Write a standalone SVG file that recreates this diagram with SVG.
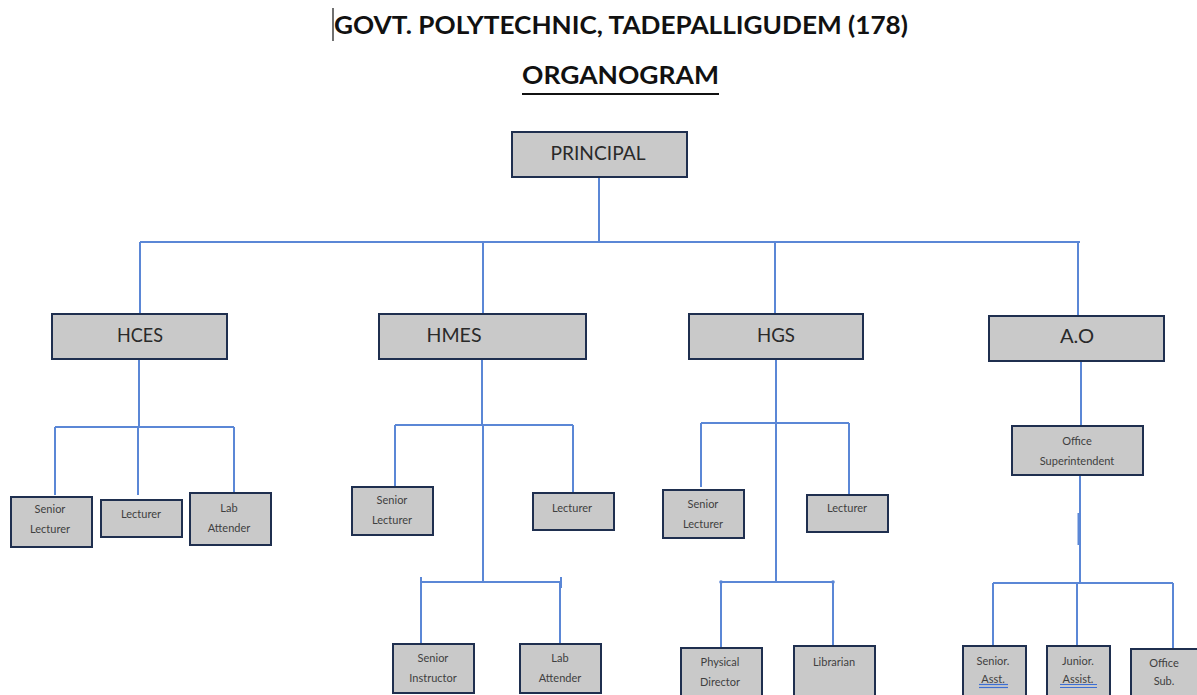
<svg xmlns="http://www.w3.org/2000/svg" width="1197" height="695" viewBox="0 0 1197 695">
<style>
.bx{fill:#c9c9c9;stroke:#1f2f4f;stroke-width:2}
.c{fill:none;stroke:#5b87d6;stroke-width:2}
.big{font-family:Lato,"Open Sans","Liberation Sans",sans-serif;font-size:19px;fill:#2a2a2a;text-anchor:middle}
.sm{font-family:Lato,"Open Sans","Liberation Sans",sans-serif;font-size:11px;fill:#3f3f3f;text-anchor:middle}
.ttl{font-family:Lato,"Open Sans","Liberation Sans",sans-serif;font-size:25px;font-weight:bold;fill:#111}
.ul{stroke:#3d6fd4;stroke-width:1.2}
</style>
<rect width="1197" height="695" fill="#fff"/>
<line x1="333" y1="8" x2="333" y2="41" stroke="#111" stroke-width="1.2"/>
<text class="ttl" x="334" y="34" textLength="574" lengthAdjust="spacingAndGlyphs">GOVT. POLYTECHNIC, TADEPALLIGUDEM (178)</text>
<text class="ttl" x="522" y="84" textLength="197" lengthAdjust="spacingAndGlyphs">ORGANOGRAM</text>
<line x1="522" y1="94" x2="719" y2="94" stroke="#111" stroke-width="2"/>

<g id="connectors">
<path class="c" d="M599 177V242M140 242H1080M140 242V314M483 242V314M775 242V314M1078 242V316"/>
<path class="c" d="M139 359V427M55 427H234M55 427V495M138 427V495M234 427V493"/>
<path class="c" d="M482 359V425M395 425H573M395 425V487M573 425V493M483 425V582M421 582H561M421 582V643M560 582V643M421 577V588M561 577V588"/>
<path class="c" d="M776 353V582M701 423H849M701 423V487M849 423V495M721 582H833M721 582V647M833 582V645"/>
<circle cx="721" cy="582" r="1.8" fill="#5b87d6"/>
<circle cx="833" cy="582" r="1.8" fill="#5b87d6"/>
<path class="c" d="M1081 361V426M1080 475V583M993 583H1173M993 583V645M1077 583V645M1173 583V648"/>
<line x1="1079" y1="513" x2="1079" y2="545" stroke="#5b87d6" stroke-width="3"/>
</g>

<g id="principal"><rect class="bx" x="512" y="132" width="175" height="45"/><text class="big" x="598" y="160" textLength="95" lengthAdjust="spacingAndGlyphs">PRINCIPAL</text></g>

<g id="hces"><rect class="bx" x="52" y="314" width="175" height="45"/><text class="big" x="140" y="342" textLength="46" lengthAdjust="spacingAndGlyphs">HCES</text></g>
<g id="hmes"><rect class="bx" x="379" y="314" width="207" height="45"/><text class="big" x="454" y="342" textLength="55" lengthAdjust="spacingAndGlyphs">HMES</text></g>
<g id="hgs"><rect class="bx" x="689" y="314" width="174" height="45"/><text class="big" x="776" y="342" textLength="38" lengthAdjust="spacingAndGlyphs">HGS</text></g>
<g id="ao"><rect class="bx" x="989" y="316" width="175" height="45"/><text class="big" x="1077" y="343" textLength="34" lengthAdjust="spacingAndGlyphs">A.O</text></g>

<g id="hces-senior-lecturer"><rect class="bx" x="11" y="497" width="81" height="50"/><text class="sm" x="50" y="513">Senior</text><text class="sm" x="50" y="533">Lecturer</text></g>
<g id="hces-lecturer"><rect class="bx" x="101" y="500" width="81" height="37"/><text class="sm" x="141" y="518">Lecturer</text></g>
<g id="hces-lab-attender"><rect class="bx" x="190" y="493" width="81" height="52"/><text class="sm" x="229" y="512">Lab</text><text class="sm" x="229" y="532">Attender</text></g>

<g id="hmes-senior-lecturer"><rect class="bx" x="352" y="487" width="81" height="48"/><text class="sm" x="392" y="504">Senior</text><text class="sm" x="392" y="524">Lecturer</text></g>
<g id="hmes-lecturer"><rect class="bx" x="533" y="493" width="81" height="37"/><text class="sm" x="572" y="512">Lecturer</text></g>
<g id="hmes-senior-instructor"><rect class="bx" x="393" y="644" width="81" height="49"/><text class="sm" x="433" y="662">Senior</text><text class="sm" x="433" y="682">Instructor</text></g>
<g id="hmes-lab-attender"><rect class="bx" x="520" y="644" width="81" height="49"/><text class="sm" x="560" y="662">Lab</text><text class="sm" x="560" y="682">Attender</text></g>

<g id="hgs-senior-lecturer"><rect class="bx" x="663" y="490" width="81" height="48"/><text class="sm" x="703" y="508">Senior</text><text class="sm" x="703" y="528">Lecturer</text></g>
<g id="hgs-lecturer"><rect class="bx" x="807" y="495" width="81" height="37"/><text class="sm" x="847" y="512">Lecturer</text></g>
<g id="hgs-physical-director"><rect class="bx" x="681" y="648" width="81" height="50"/><text class="sm" x="720" y="666">Physical</text><text class="sm" x="720" y="686">Director</text></g>
<g id="hgs-librarian"><rect class="bx" x="794" y="646" width="81" height="52"/><text class="sm" x="834" y="666">Librarian</text></g>

<g id="office-superintendent"><rect class="bx" x="1012" y="426" width="131" height="49"/><text class="sm" x="1077" y="445">Office</text><text class="sm" x="1077" y="465">Superintendent</text></g>
<g id="senior-asst"><rect class="bx" x="963" y="646" width="63" height="52"/><text class="sm" x="993" y="665">Senior.</text><text class="sm" x="993" y="683">Asst.</text><line class="ul" x1="979" y1="684.5" x2="1008" y2="684.5"/><line class="ul" x1="979" y1="687.5" x2="1008" y2="687.5"/></g>
<g id="junior-assist"><rect class="bx" x="1047" y="646" width="63" height="52"/><text class="sm" x="1078" y="665">Junior.</text><text class="sm" x="1078" y="683">Assist.</text><line class="ul" x1="1060" y1="684.5" x2="1097" y2="684.5"/><line class="ul" x1="1060" y1="687.5" x2="1097" y2="687.5"/></g>
<g id="office-sub"><rect class="bx" x="1131" y="649" width="70" height="52"/><text class="sm" x="1164" y="667">Office</text><text class="sm" x="1164" y="685">Sub.</text></g>
</svg>
